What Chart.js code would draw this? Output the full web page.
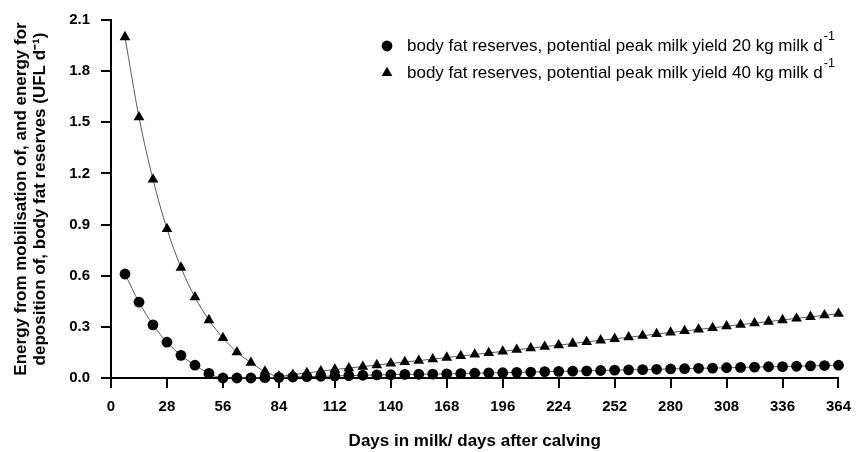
<!DOCTYPE html>
<html>
<head>
<meta charset="utf-8">
<script src="https://cdn.jsdelivr.net/npm/chart.js@4.4.1/dist/chart.umd.min.js"></script>
<style>
  html,body{margin:0;padding:0;background:#fff;}
  canvas{display:block;}
</style>
</head>
<body>
<canvas id="chart" width="861" height="452"></canvas>
<script>
// ===================== DATA =====================
const days=[7,14,21,28,35,42,49,56,63,70,77,84,91,98,105,112,119,126,133,140,147,154,161,168,
  175,182,189,196,203,210,217,224,231,238,245,252,259,266,273,280,287,294,301,308,315,322,329,336,343,350,357,364];

// potential peak milk yield 20 kg milk/d (circles)
const fat20=[0.610,0.445,0.312,0.210,0.133,0.075,0.027,0.000,0.000,0.000,0.002,0.004,0.006,0.008,0.010,0.012,
  0.014,0.016,0.018,0.019,0.021,0.022,0.023,0.024,0.026,0.028,0.030,0.031,0.033,0.035,0.037,0.039,0.040,0.042,
  0.044,0.046,0.048,0.049,0.051,0.053,0.055,0.057,0.058,0.060,0.062,0.064,0.066,0.067,0.069,0.071,0.073,0.075];

// potential peak milk yield 40 kg milk/d (triangles)
const fat40=[2.000,1.530,1.165,0.875,0.648,0.474,0.340,0.235,0.152,0.090,0.038,0.010,0.020,0.030,0.040,0.050,
  0.058,0.067,0.076,0.085,0.094,0.102,0.111,0.120,0.129,0.138,0.147,0.156,0.166,0.175,0.184,0.193,0.202,0.212,
  0.221,0.230,0.239,0.248,0.258,0.267,0.276,0.285,0.294,0.304,0.313,0.322,0.331,0.340,0.350,0.359,0.368,0.377];

const seriesLabels=['body fat reserves, potential peak milk yield 20 kg milk d',
                    'body fat reserves, potential peak milk yield 40 kg milk d'];
const xTitle='Days in milk/ days after calving';
const yTitle=['Energy from mobilisation of, and energy for','deposition of, body fat reserves (UFL d\u207B\u00B9)'];

const FONT='"Liberation Sans", Arial, sans-serif';
Chart.defaults.font.family=FONT;
Chart.defaults.color='#000';

// legend drawn inside the plot, with a real superscript after "d"
const supLegend={
  id:'supLegend',
  afterDraw(chart,args,opts){
    const ctx=chart.ctx;
    ctx.save();
    chart.data.datasets.forEach((ds,i)=>{
      const y=opts.y+i*opts.gap;
      ctx.fillStyle='#000';
      Chart.helpers.drawPoint(ctx,{pointStyle:ds.pointStyle,radius:ds.pointRadius,rotation:0,borderWidth:0},opts.x,y);
      ctx.font='17px '+FONT;
      ctx.textBaseline='middle';
      ctx.textAlign='left';
      const tx=opts.x+20;
      ctx.fillText(ds.label,tx,y);
      const w=ctx.measureText(ds.label).width;
      ctx.font='12.5px '+FONT;
      ctx.fillText('-1',tx+w+1,y-9);
    });
    ctx.restore();
  }
};

const mk=vals=>days.map((d,i)=>({x:d,y:vals[i]}));

new Chart(document.getElementById('chart').getContext('2d'),{
  type:'scatter',
  data:{datasets:[
    {label:seriesLabels[0],data:mk(fat20),showLine:true,borderColor:'#5a5a5a',borderWidth:1,
     cubicInterpolationMode:'monotone',pointStyle:'circle',pointRadius:5.4,pointBackgroundColor:'#000',
     pointBorderColor:'#000',pointBorderWidth:0,clip:false},
    {label:seriesLabels[1],data:mk(fat40),showLine:true,borderColor:'#5a5a5a',borderWidth:1,
     cubicInterpolationMode:'monotone',pointStyle:'triangle',pointRadius:6.2,pointBackgroundColor:'#000',
     pointBorderColor:'#000',pointBorderWidth:0,clip:false}
  ]},
  options:{
    responsive:false,animation:false,
    layout:{padding:{top:15,right:13,left:0,bottom:0}},
    plugins:{legend:{display:false},tooltip:{enabled:false},supLegend:{x:387,y:46,gap:27}},
    scales:{
      x:{type:'linear',min:0,max:364,
        ticks:{stepSize:28,color:'#000',font:{size:15,weight:'bold'},padding:10,maxRotation:0},
        grid:{drawOnChartArea:false,drawTicks:true,tickLength:10,color:'#000',lineWidth:2},
        border:{color:'#000',width:2},
        title:{display:true,text:xTitle,color:'#000',font:{size:17,weight:'bold',lineHeight:1.1},padding:{top:0,bottom:1}},
        afterFit(s){s.height=74;}
      },
      y:{min:0,max:2.1,
        ticks:{stepSize:0.3,callback:v=>v.toFixed(1),color:'#000',font:{size:15,weight:'bold'},padding:11},
        grid:{drawOnChartArea:false,drawTicks:true,tickLength:10,color:'#000',lineWidth:2},
        border:{color:'#000',width:2},
        title:{display:true,text:yTitle,color:'#000',font:{size:17,weight:'bold',lineHeight:1.12},padding:{top:12,bottom:0}},
        afterFit(s){s.width=111;}
      }
    }
  },
  plugins:[supLegend]
});
</script>
</body>
</html>
